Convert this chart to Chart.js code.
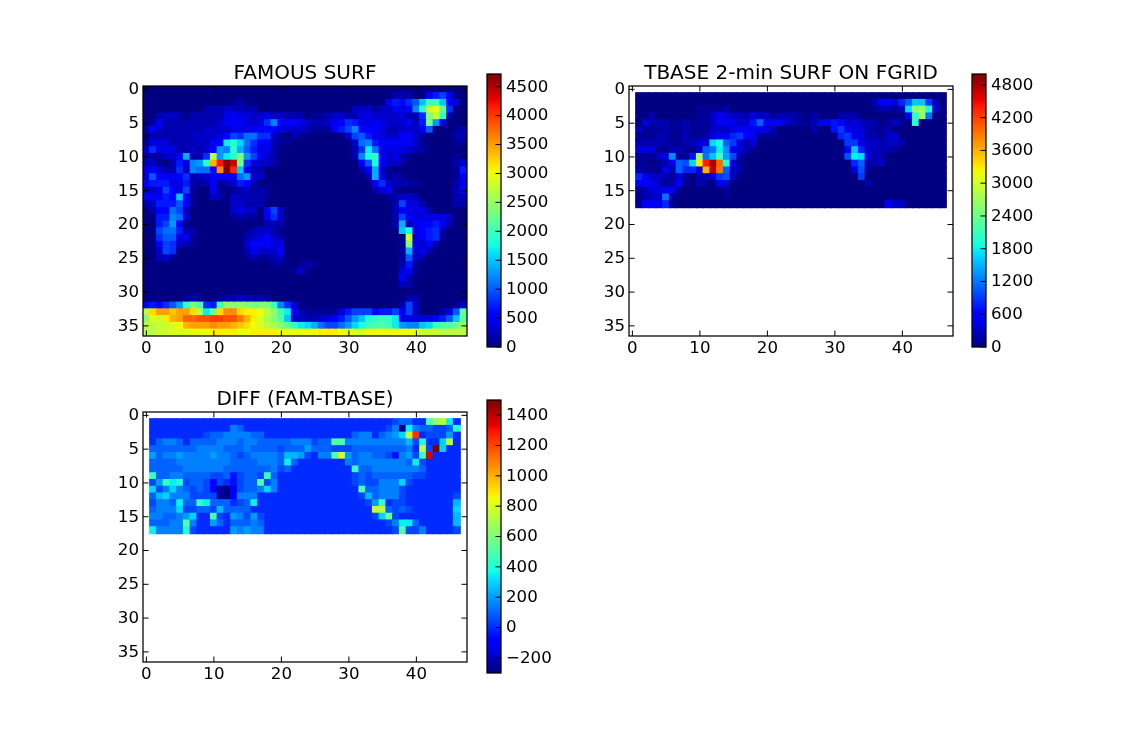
<!DOCTYPE html>
<html><head><meta charset="utf-8">
<script src="https://cdn.jsdelivr.net/npm/chart.js@4"></script>
<style>html,body{margin:0;padding:0;background:#fff;width:1147px;height:748px;overflow:hidden}canvas{position:absolute}</style>
</head><body>
<script>
// FAMOUS SURF, hundreds of metres, rows 0-36, columns 0-47
const famousRows = [
[0,0,0,0,0,0,0,0,0,0, 0,0,0,0,0,0,0,0,0,0, 0,0,0,0,0,0,0,0,0,0, 0,0,0,0,0,0,0,0,0,0, 0,0,0,0,0,0,0,0],
[0,0,0,0,0,0,0,0,0,0, 0,0,0,0,0,0,0,0,0,0, 0,0,0,0,0,0,0,0,0,0, 0,0,0,0,0,0,0,2,2,2, 0,0,5,7,9,5,0,0],
[0,0,0,0,0,0,0,0,0,0, 0,0,0,1,2,0,0,0,0,0, 0,0,0,0,0,0,0,0,0,0, 0,0,0,0,0,0,5,7,6,8, 10,15,20,20,15,5,4,0],
[0,0,0,0,0,0,0,0,0,2, 2,2,3,3,2,2,2,0,0,0, 0,0,0,0,0,0,0,0,0,0, 0,3,3,3,1,3,3,5,4,5, 12,19,28,30,22,8,0,0],
[0,0,2,3,3,2,0,2,2,2, 2,2,4,5,4,4,3,3,4,3, 3,2,2,2,0,1,1,2,3,3, 2,2,4,4,3,3,3,3,4,2, 2,8,24,28,19,2,0,0],
[0,1,5,2,2,2,2,2,2,2, 2,3,5,5,5,4,3,4,8,12, 6,5,6,4,3,2,2,3,5,6, 8,7,4,4,5,4,3,3,3,5, 2,7,23,13,4,0,0,0],
[1,5,3,2,2,2,2,2,2,3, 3,3,3,4,4,4,5,5,6,6, 4,3,3,3,2,1,1,1,5,7, 9,12,5,5,5,4,2,2,3,3, 3,5,10,0,0,0,1,2],
[0,2,2,2,2,2,2,3,3,3, 3,4,6,9,8,11,11,8,8,3, 1,0,2,1,0,0,0,0,0,0, 3,9,10,7,4,4,3,3,5,6, 3,1,0,0,0,0,2,2],
[1,4,4,4,2,2,2,2,3,3, 5,6,17,19,16,11,8,5,5,2, 1,1,0,0,0,0,0,0,0,0, 0,3,11,12,7,5,5,5,5,5, 3,1,0,0,0,0,1,1],
[3,8,4,4,4,2,2,3,2,3, 5,13,12,19,14,10,7,4,5,2, 0,0,0,0,0,0,0,0,0,0, 0,2,8,17,11,4,4,4,4,3, 2,2,0,0,0,0,0,0],
[2,2,1,3,3,5,14,2,2,8, 27,13,17,19,24,13,9,5,3,2, 0,0,0,0,0,0,0,0,0,0, 0,2,12,18,19,6,3,4,2,1, 0,0,0,0,0,0,1,1],
[2,3,1,0,2,7,4,12,13,19, 34,42,47,44,23,8,4,3,3,2, 0,0,0,0,0,0,0,0,0,0, 0,0,6,10,18,5,3,3,2,0, 0,0,0,0,0,0,2,3],
[4,5,4,2,2,8,3,12,11,11, 6,36,47,41,15,5,2,2,0,0, 0,0,0,0,0,0,0,0,0,0, 0,0,2,5,14,3,1,0,0,0, 0,0,0,0,0,0,1,7],
[4,10,6,5,5,5,8,2,3,3, 5,5,5,5,11,13,3,3,0,0, 0,0,0,0,0,0,0,0,0,0, 0,0,0,2,14,4,1,2,1,0, 0,0,0,0,0,0,1,5],
[6,7,7,7,4,4,7,2,1,2, 5,1,2,3,7,6,2,0,0,0, 0,0,0,0,0,0,0,0,0,0, 0,0,0,0,5,8,3,2,2,2, 1,0,0,0,0,0,2,4],
[3,3,4,9,5,4,9,1,0,0, 5,1,0,1,2,3,1,2,1,0, 0,0,0,0,0,0,0,0,0,0, 0,0,0,0,2,4,5,1,0,0, 0,0,0,0,0,0,2,5],
[5,5,5,7,6,15,5,1,0,0, 3,2,0,3,2,2,2,2,1,0, 0,0,0,0,0,0,0,0,0,0, 0,0,0,0,0,0,1,2,3,3, 2,0,0,0,0,0,2,2],
[2,3,7,7,7,10,6,1,0,0, 0,0,0,3,3,2,2,2,0,0, 0,0,0,0,0,0,0,0,0,0, 0,0,0,0,0,0,0,2,9,4, 4,2,0,0,0,0,2,2],
[0,2,5,6,11,9,3,0,0,0, 0,0,0,3,4,3,3,0,6,9, 3,0,0,0,0,0,0,0,0,0, 0,0,0,0,0,0,0,2,6,4, 4,4,2,0,0,0,0,0],
[0,0,7,7,12,11,4,0,0,0, 0,0,0,1,2,1,1,0,5,8, 3,0,0,0,0,0,0,0,0,0, 0,0,0,0,0,0,0,2,9,5, 4,4,4,4,4,3,0,0],
[0,0,7,9,13,6,0,0,0,0, 0,0,0,0,0,0,0,0,2,2, 2,0,0,0,0,0,0,0,0,0, 0,0,0,0,0,0,0,2,14,2, 5,6,6,7,5,2,0,0],
[0,0,9,11,11,7,2,2,0,0, 0,0,0,0,0,1,2,3,3,2, 0,0,0,0,0,0,0,0,0,0, 0,0,0,0,0,0,0,0,15,18, 4,6,7,8,2,0,0,0],
[0,0,8,10,10,4,5,1,0,0, 0,0,0,0,0,2,3,4,5,3, 2,0,0,0,0,0,0,0,0,0, 0,0,0,0,0,0,0,0,0,28, 4,5,7,8,1,0,0,0],
[0,0,6,9,8,3,2,1,0,0, 0,0,0,0,0,3,6,6,6,4, 4,0,0,0,0,0,0,0,0,0, 0,0,0,0,0,0,0,0,1,24, 4,3,6,2,0,0,0,0],
[0,0,3,9,8,0,0,0,0,0, 0,0,0,0,0,2,5,3,3,3, 5,0,0,0,0,0,0,0,0,0, 0,0,0,0,0,0,0,0,1,14, 3,5,2,0,0,0,0,0],
[0,0,2,3,1,0,0,0,0,0, 0,0,0,0,0,1,2,1,1,2, 3,0,0,0,0,0,0,0,0,0, 0,0,0,0,0,0,0,0,1,10, 3,2,0,0,0,0,0,0],
[0,0,0,0,0,0,0,0,0,0, 0,0,0,0,0,0,0,0,0,1, 1,0,0,1,2,1,0,0,0,0, 0,0,0,0,0,0,0,0,2,7, 1,0,0,0,0,0,0,0],
[0,0,0,0,0,0,0,0,0,0, 0,0,0,0,0,0,0,0,0,0, 0,0,1,3,0,0,0,0,0,0, 0,0,0,0,0,0,0,0,4,5, 1,0,0,0,0,0,0,0],
[0,0,0,0,0,0,0,0,0,0, 0,0,0,0,0,0,0,0,0,0, 0,0,0,0,0,0,0,0,0,0, 0,0,0,0,0,0,0,0,5,2, 0,0,0,0,0,0,0,0],
[0,0,0,0,0,0,0,0,0,0, 0,0,0,0,0,0,0,0,0,0, 0,0,0,0,0,0,0,0,0,0, 0,0,0,0,0,0,0,0,2,2, 0,0,0,0,0,0,0,0],
[0,0,0,0,0,0,0,0,0,0, 0,0,0,0,0,0,0,0,0,0, 0,0,0,0,0,0,0,0,0,0, 0,0,0,0,0,0,0,0,0,0, 0,0,0,0,0,0,0,0],
[0,0,0,0,0,0,1,2,1,0, 0,1,2,2,3,2,2,2,1,0, 0,0,0,0,0,0,0,0,0,0, 0,0,0,0,0,0,0,0,0,2, 2,0,0,0,0,0,0,0],
[6,7,6,8,10,13,19,24,21,8, 7,20,25,24,25,24,23,24,24,20, 12,8,4,0,0,0,0,0,0,0, 0,0,0,0,0,0,0,0,2,9, 3,0,0,0,0,0,1,3],
[27,32,35,35,33,35,35,32,27,17, 23,32,36,36,32,31,31,30,27,25, 20,17,5,2,1,1,1,1,1,4, 7,9,9,9,6,7,7,9,5,9, 3,0,0,0,2,4,10,22],
[24,30,28,31,34,35,38,38,39,39, 40,40,39,39,37,34,31,29,26,24, 21,15,3,3,2,2,3,4,5,7, 10,13,15,18,19,20,19,17,5,4, 4,4,4,5,7,10,15,22],
[27,27,28,28,29,30,34,35,35,35, 36,35,35,34,33,32,30,29,27,26, 24,22,19,17,16,14,11,9,9,11, 13,16,18,20,21,21,20,17,13,12, 12,15,16,20,21,21,23,25],
[27,27,28,28,29,29,29,30,30,30, 31,31,31,31,30,30,31,31,31,31, 30,30,30,30,30,30,31,31,31,30, 30,29,29,30,30,30,30,30,30,30, 30,28,28,28,27,27,27,27]
];
// TBASE 2-min SURF ON FGRID, hundreds of metres, rows 1-17, columns 1-46
const tbaseRows = [
[0,0,0,0,0,0,0,0,0, 0,0,0,0,0,0,0,0,0,0, 0,0,0,0,0,0,0,0,0,0, 0,0,0,0,0,0,0,0,0,0, 0,0,0,0,0,0,0],
[0,0,0,0,0,0,0,0,0, 0,0,0,0,0,0,0,0,0,0, 0,0,0,0,0,0,0,0,0,0, 0,0,0,0,0,0,2,6,6,4, 8,11,16,16,9,3,0],
[0,0,0,0,0,0,0,0,0, 1,1,1,1,2,0,0,0,0,0, 0,0,0,0,0,0,0,0,0,0, 0,0,0,0,0,0,1,2,2,1, 3,17,26,27,19,4,0],
[0,0,2,0,0,0,0,0,0, 1,1,3,6,4,3,3,2,4,3, 3,1,2,2,2,1,0,2,0,0, 0,2,2,2,0,0,0,0,0,0, 0,5,20,27,12,0,0],
[0,4,2,2,2,1,1,2,1, 1,1,3,5,5,5,3,4,7,11, 6,6,6,3,2,1,1,2,5,5, 7,6,3,4,3,2,2,0,1,3, 1,0,20,0,0,0,0],
[3,1,1,1,2,1,1,2,1, 1,1,3,3,3,4,5,5,5,5, 4,2,0,0,0,0,0,2,0,0, 7,9,5,4,4,2,1,1,2,0, 0,0,0,0,0,0,0],
[1,1,1,2,2,1,1,3,1, 1,2,4,6,5,8,9,6,5,1, 1,1,0,0,0,0,0,0,0,0, 0,8,9,5,4,2,2,1,3,4, 0,0,0,0,0,0,0],
[2,2,2,2,2,1,1,2,2, 4,4,17,19,11,9,4,2,4,0, 0,0,0,0,0,0,0,0,0,0, 0,0,9,9,4,3,3,2,3,3, 2,0,0,0,0,0,0],
[4,4,4,1,1,2,2,1,1, 3,11,12,18,13,5,4,2,1,0, 0,0,0,0,0,0,0,0,0,0, 0,0,6,16,8,3,3,2,2,1, 0,0,0,0,0,0,0],
[1,1,1,3,4,13,1,1,7, 27,12,16,22,14,10,2,0,0,0, 0,0,0,0,0,0,0,0,0,0, 0,0,10,18,17,4,2,2,0,0, 0,0,0,0,0,0,0],
[1,1,0,1,2,5,11,10,17, 33,44,48,40,19,4,1,0,0,0, 0,0,0,0,0,0,0,0,0,0, 0,0,0,8,11,2,2,3,0,0, 0,0,0,0,0,0,0],
[2,1,1,1,5,2,11,8,8, 4,36,47,39,11,3,2,0,0,0, 0,0,0,0,0,0,0,0,0,0, 0,0,0,4,10,1,0,0,0,0, 0,0,0,0,0,0,0],
[8,5,3,3,2,1,4,1,0, 2,2,4,9,10,3,0,0,0,0, 0,0,0,0,0,0,0,0,0,0, 0,0,0,0,9,0,0,0,0,0, 0,0,0,0,0,0,0],
[5,5,5,3,1,2,6,1,0, 2,1,0,5,4,0,0,0,0,0, 0,0,0,0,0,0,0,0,0,0, 0,0,0,0,0,2,0,0,0,0, 0,0,0,0,0,0,0],
[1,2,4,4,5,5,1,0,0, 0,0,0,0,1,0,0,0,0,0, 0,0,0,0,0,0,0,0,0,0, 0,0,0,0,0,0,0,0,0,0, 0,0,0,0,0,0,0],
[1,2,3,3,12,1,0,0,0, 0,0,0,0,1,0,0,0,0,0, 0,0,0,0,0,0,0,0,0,0, 0,0,0,0,0,0,0,0,0,0, 0,0,0,0,0,0,0],
[1,5,5,5,8,1,0,0,0, 0,0,0,0,0,0,0,0,0,0, 0,0,0,0,0,0,0,0,0,0, 0,0,0,0,0,0,0,0,5,3, 3,0,0,0,0,0,0]
];
// DIFF (FAM-TBASE), units of 50 m, rows 1-17, columns 1-46
const diffRows = [
[0,0,0,0,0,0,0,0,0, 0,0,0,0,0,0,0,0,0,0, 0,0,0,0,0,0,0,0,0,0, 0,0,0,0,0,0,0,1,2,2, 0,0,10,13,15,7,0],
[0,0,0,0,0,0,0,0,0, 0,0,0,3,2,0,0,0,0,0, 0,0,0,0,0,0,0,0,0,0, 0,0,0,0,0,0,1,3,-6,7, 3,2,2,1,1,2,8],
[0,0,0,0,0,0,0,0,1, 2,2,3,3,3,3,2,2,0,0, 0,0,0,0,0,0,0,0,0,0, 0,2,3,3,0,2,3,4,6,15, 25,0,1,1,1,4,0],
[0,2,3,3,2,0,2,2,2, 2,3,3,3,2,3,3,2,2,2, 2,2,3,3,3,1,2,2,10,10, 3,3,3,3,3,3,3,3,3,5, 1,8,0,0,6,15,0],
[2,2,2,2,2,2,2,3,3, 3,3,2,2,2,3,2,2,2,2, 1,2,2,2,4,2,2,2,1,1, 1,2,2,2,2,2,2,2,2,3, 0,15,1,30,6,0,0],
[4,2,3,3,4,3,3,3,3, 4,3,3,2,1,2,3,3,3,3, 2,5,5,4,1,0,3,3,10,16, 4,2,3,3,2,2,1,-1,3,4, 1,9,27,0,0,0,0],
[2,2,2,2,3,3,3,3,3, 3,3,3,2,2,2,2,3,3,3, 2,7,2,0,0,0,0,0,0,0, 3,2,3,3,3,3,3,3,3,2, 7,1,0,0,0,0,0],
[2,2,2,2,2,3,3,3,3, 3,3,2,2,2,2,2,2,2,3, 1,2,0,0,0,0,0,0,0,0, 0,9,2,2,3,3,3,3,3,3, 3,2,0,0,0,0,0],
[9,2,2,3,3,2,2,2,2, 1,1,2,-1,1,2,2,1,9,2, 0,0,0,0,0,0,0,0,0,0, 0,1,2,1,2,2,2,2,2,2, 1,1,0,0,0,0,0],
[1,4,9,7,8,1,2,2,1, -2,1,0,-1,1,2,2,10,1,3, 0,0,0,0,0,0,0,0,0,0, 0,1,2,1,1,3,3,3,6,1, 0,0,0,0,0,0,0],
[6,1,3,6,3,2,1,2,1, -2,-5,-6,-2,1,2,2,3,6,3, 0,0,0,0,0,0,0,0,0,0, 0,0,10,2,2,3,3,3,1,0, 0,0,0,0,0,0,0],
[2,5,6,3,3,3,1,1,1, 1,-5,-6,-2,3,3,3,0,0,0, 0,0,0,0,0,0,0,0,0,0, 0,0,1,5,2,3,3,3,1,0, 0,0,0,0,0,0,1],
[1,3,3,2,7,2,2,9,7, 2,2,2,0,1,2,7,0,0,0, 0,0,0,0,0,0,0,0,0,0, 0,0,0,1,4,9,0,1,1,0, 0,0,0,0,0,0,5],
[2,3,3,3,6,1,1,2,2, 1,5,2,2,2,2,0,0,0,0, 0,0,0,0,0,0,0,0,0,0, 0,0,0,0,15,15,2,1,2,1, 0,0,0,0,0,0,6],
[3,3,2,2,3,4,6,0,0, 10,1,0,4,3,1,4,1,0,0, 0,0,0,0,0,0,0,0,0,0, 0,0,0,0,1,6,11,1,0,0, 0,0,0,0,0,0,5],
[2,2,2,3,3,10,3,0,0, 4,2,0,2,2,2,3,2,0,0, 0,0,0,0,0,0,0,0,0,0, 0,0,0,0,0,0,1,3,7,7, 2,0,0,0,0,0,5],
[7,3,3,3,3,8,1,0,0, 0,0,0,4,3,4,3,3,0,0, 0,0,0,0,0,0,0,0,0,0, 0,0,0,0,0,0,0,1,10,1, 1,3,0,0,0,0,1]
];
const xTicks = [0,10,20,30,40];
const yTicks = [0,5,10,15,20,25,30,35];
const famousBarTicks = [0,500,1000,1500,2000,2500,3000,3500,4000,4500];
const tbaseBarTicks = [0,600,1200,1800,2400,3000,3600,4200,4800];
const diffBarTicks = [-200,0,200,400,600,800,1000,1200,1400];
const famousRange = [0,4720];
const tbaseRange = [0,5000];
const diffRange = [-300,1500];
const titles = ['FAMOUS SURF','TBASE 2-min SURF ON FGRID','DIFF (FAM-TBASE)'];

function lerp(pts,t){
  for(let i=1;i<pts.length;i++){
    if(t<=pts[i][0]){const a=pts[i-1],b=pts[i];return a[1]+(b[1]-a[1])*(t-a[0])/(b[0]-a[0]);}
  }
  return pts[pts.length-1][1];
}
const jR=[[0,0],[.35,0],[.66,1],[.89,1],[1,.5]],jG=[[0,0],[.125,0],[.375,1],[.64,1],[.91,0],[1,0]],jB=[[0,.5],[.11,1],[.34,1],[.65,0],[1,0]];
function jet(v,range){
  const t=Math.max(0,Math.min(1,(v-range[0])/(range[1]-range[0])));
  return `rgb(${Math.round(255*lerp(jR,t))},${Math.round(255*lerp(jG,t))},${Math.round(255*lerp(jB,t))})`;
}
const FONT='"DejaVu Sans"';
const fmt=v=>v<0?'\u2212'+Math.abs(v):String(v);

function place(left,top,w,h){
  const c=document.createElement('canvas');
  c.style.left=left+'px';c.style.top=top+'px';c.style.width=w+'px';c.style.height=h+'px';
  c.width=w;c.height=h;
  document.body.appendChild(c);
  return c;
}
const framePlugin=(mode)=>({id:'frame',afterDraw(chart){
  const {ctx,chartArea:a,scales}=chart;const T=5.5;
  ctx.save();ctx.strokeStyle='#000';ctx.lineWidth=1;
  ctx.beginPath();
  if(mode==='axes'){
    scales.x.ticks.forEach(t=>{const p=scales.x.getPixelForValue(t.value);
      ctx.moveTo(p,a.top);ctx.lineTo(p,a.top+T);ctx.moveTo(p,a.bottom);ctx.lineTo(p,a.bottom-T);});
    scales.y.ticks.forEach(t=>{const p=scales.y.getPixelForValue(t.value);
      ctx.moveTo(a.left,p);ctx.lineTo(a.left+T,p);ctx.moveTo(a.right,p);ctx.lineTo(a.right-T,p);});
  }else{
    scales.y.ticks.forEach(t=>{const p=scales.y.getPixelForValue(t.value);
      ctx.moveTo(a.right,p);ctx.lineTo(a.right-T,p);});
  }
  ctx.stroke();
  ctx.lineWidth=1.25;
  ctx.strokeRect(a.left,a.top,a.right-a.left,a.bottom-a.top);
  ctx.restore();
}});

function heatmap(box,title,rows,firstRow,firstCol,scaleUnit,range){
  const [L,Tp,W,H]=box;const padL=60,padR=60,titleH=24,padB=30;
  const canvas=place(L-padL,Tp-titleH,W+padL+padR,H+titleH+padB);
  const data=[],colors=[];
  rows.forEach((row,r)=>row.forEach((v,c)=>{
    data.push({x:c+firstCol,y:[r+firstRow-0.5,r+firstRow+0.5]});
    colors.push(jet(v*scaleUnit,range));
  }));
  new Chart(canvas,{
    type:'bar',
    data:{datasets:[{data,backgroundColor:colors,borderWidth:0,inflateAmount:0.6,barPercentage:1,categoryPercentage:1}]},
    options:{
      responsive:false,animation:false,events:[],devicePixelRatio:1,
      layout:{autoPadding:false,padding:{right:padR}},
      plugins:{legend:{display:false},tooltip:{enabled:false},
        title:{display:true,fullSize:false,text:title,color:'#000',font:{family:FONT,size:20,weight:'normal',lineHeight:1.2},padding:{top:0,bottom:0}}},
      scales:{
        x:{type:'linear',min:-0.5,max:47.5,offset:false,grid:{display:false,drawTicks:false,offset:false},border:{display:false},
          afterBuildTicks:s=>{s.ticks=xTicks.map(value=>({value}));},
          afterFit:s=>{s.height=padB;s.paddingLeft=0;s.paddingRight=0;},
          ticks:{autoSkip:false,maxRotation:0,minRotation:0,padding:3,color:'#000',font:{family:FONT,size:16.67},callback:fmt}},
        y:{type:'linear',reverse:true,min:-0.5,max:36.5,grid:{display:false,drawTicks:false},border:{display:false},
          afterBuildTicks:s=>{s.ticks=yTicks.map(value=>({value}));},
          afterFit:s=>{s.width=padL;s.paddingTop=0;s.paddingBottom=0;},
          ticks:{autoSkip:false,padding:4,labelOffset:0.5,color:'#000',font:{family:FONT,size:16.67},callback:fmt}}
      }
    },
    plugins:[framePlugin('axes')]
  });
}
function colorbar(box,range,ticks){
  const [L,Tp,W,H]=box;const pad=14,right=62;
  const canvas=place(L-pad,Tp-pad,W+pad+right,H+2*pad);
  const n=256,data=[],colors=[];const step=(range[1]-range[0])/n;
  for(let i=0;i<n;i++){
    data.push({x:'c',y:[range[0]+i*step,range[0]+(i+1)*step]});
    colors.push(jet(range[0]+(i+0.5)*step,range));
  }
  new Chart(canvas,{
    type:'bar',
    data:{labels:['c'],datasets:[{data,backgroundColor:colors,borderWidth:0,inflateAmount:0.6,barPercentage:1,categoryPercentage:1}]},
    options:{
      responsive:false,animation:false,events:[],devicePixelRatio:1,
      layout:{autoPadding:false,padding:{left:pad,top:pad,bottom:pad}},
      plugins:{legend:{display:false},tooltip:{enabled:false},title:{display:false}},
      scales:{
        x:{display:false},
        y:{position:'right',min:range[0],max:range[1],grid:{display:false,drawTicks:false},border:{display:false},
          afterBuildTicks:s=>{s.ticks=ticks.map(value=>({value}));},
          afterFit:s=>{s.width=right;s.paddingTop=0;s.paddingBottom=0;},
          ticks:{autoSkip:false,padding:5,labelOffset:0.5,color:'#000',font:{family:FONT,size:16.67},callback:fmt}}
      }
    },
    plugins:[framePlugin('bar')]
  });
}
heatmap([143,86,324,250],titles[0],famousRows,0,0,100,famousRange);
heatmap([629,86,324,250],titles[1],tbaseRows,1,1,100,tbaseRange);
heatmap([143,412,324,250],titles[2],diffRows,1,1,50,diffRange);
colorbar([487,74,14,273],famousRange,famousBarTicks);
colorbar([972,74,14,273],tbaseRange,tbaseBarTicks);
colorbar([487,400,14,273],diffRange,diffBarTicks);
</script>
</body></html>
